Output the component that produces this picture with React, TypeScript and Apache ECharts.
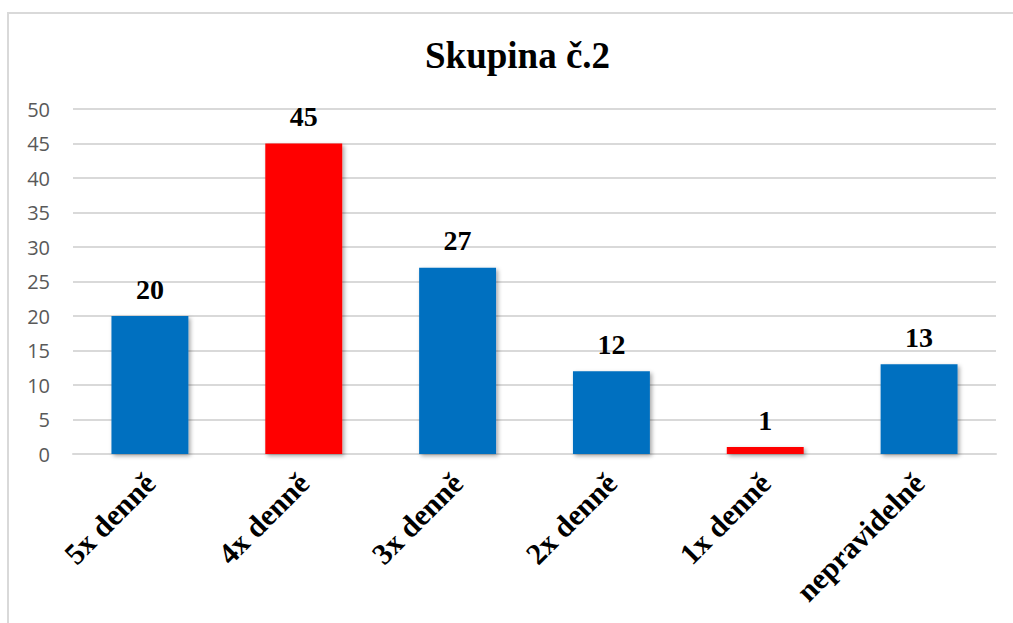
import React, { useEffect, useRef } from "react";
import * as echarts from "echarts";

const categories = ["5x denně", "4x denně", "3x denně", "2x denně", "1x denně", "nepravidelně"];
const values = [20, 45, 27, 12, 1, 13];
const highlighted = [false, true, false, false, true, false];
const titleText = "Skupina č.2";

const BLUE = "#0070C0";
const RED = "#FF0000";
const SERIF = "'Liberation Serif', 'Times New Roman', serif";

export default function App() {
  const ref = useRef<HTMLDivElement>(null);
  useEffect(() => {
    document.body.style.margin = "0";
    const chart = echarts.init(ref.current!, null, { renderer: "svg" });
    chart.setOption({
      animation: false,
      backgroundColor: "#ffffff",
      title: {
        text: titleText,
        left: 420,
        top: 32,
        textStyle: { fontFamily: SERIF, fontWeight: "bold", fontSize: 37, color: "#000" },
      },
      graphic: [
        {
          type: "rect",
          shape: { x: 8, y: 13, width: 1040, height: 660 },
          style: { fill: "none", stroke: "#d9d9d9", lineWidth: 2 },
          silent: true,
        },
      ],
      grid: { left: 73, right: 17, top: 109, bottom: 169, containLabel: false },
      xAxis: {
        type: "category",
        data: categories,
        axisLine: { show: true, lineStyle: { color: "#d9d9d9", width: 2 } },
        axisTick: { show: false },
        axisLabel: {
          rotate: 45,
          margin: 24,
          interval: 0,
          fontFamily: SERIF,
          fontWeight: "bold",
          fontSize: 30,
          color: "#000",
        },
      },
      yAxis: {
        type: "value",
        min: 0,
        max: 50,
        interval: 5,
        axisLine: { show: false },
        axisTick: { show: false },
        splitLine: { lineStyle: { color: "#d9d9d9", width: 2 } },
        axisLabel: {
          margin: 23,
          fontFamily: "'Open Sans', 'Liberation Sans', Arial, sans-serif",
          fontSize: 20,
          color: "#595959",
        },
      },
      series: [
        {
          type: "bar",
          data: values.map((v, i) => ({
            value: v,
            itemStyle: { color: highlighted[i] ? RED : BLUE },
          })),
          barCategoryGap: "50%",
          itemStyle: {
            shadowBlur: 4,
            shadowColor: "rgba(0,0,0,0.35)",
            shadowOffsetX: 2,
            shadowOffsetY: 2,
          },
          label: {
            show: true,
            position: "top",
            distance: 13,
            fontFamily: SERIF,
            fontWeight: "bold",
            fontSize: 28,
            color: "#000",
          },
        },
      ],
    });
    return () => chart.dispose();
  }, []);
  return <div ref={ref} style={{ width: 1013, height: 623 }} />;
}
